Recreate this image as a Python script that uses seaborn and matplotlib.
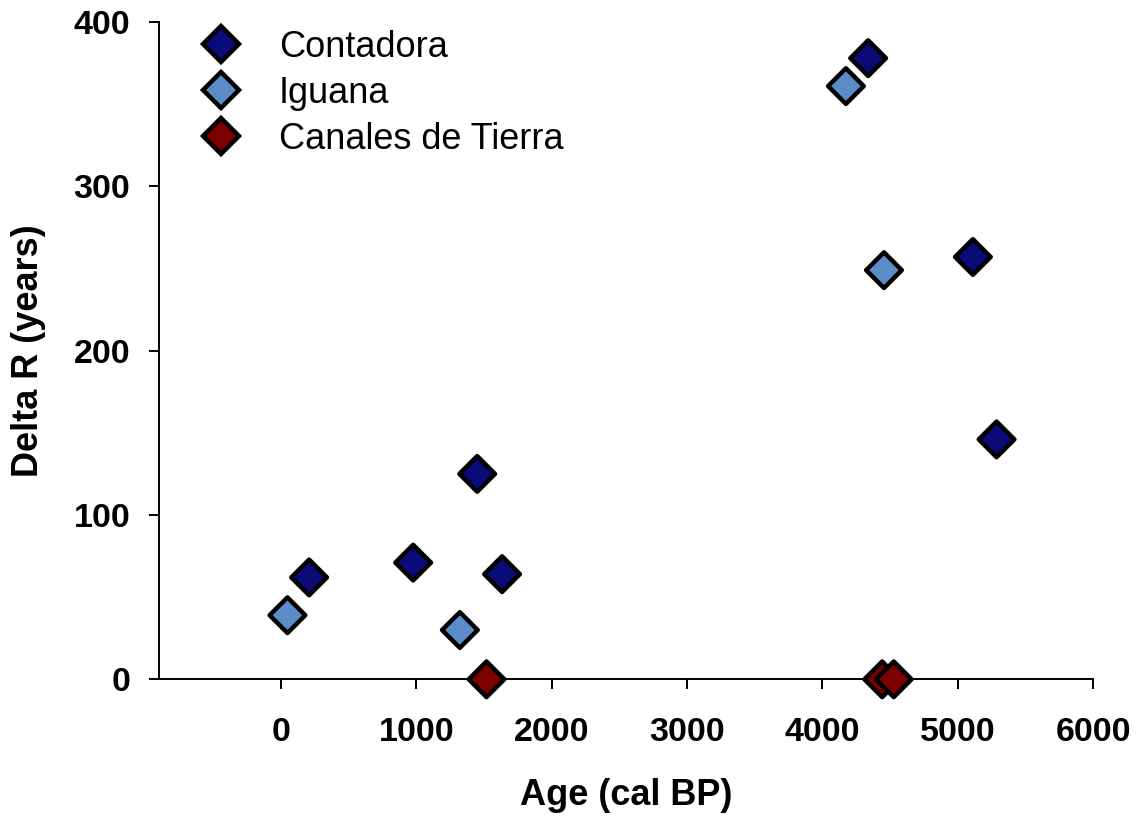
import pandas as pd
import matplotlib
matplotlib.use('Agg')
import matplotlib.pyplot as plt
from matplotlib.lines import Line2D
import seaborn as sns

# Values
sites = ['Contadora', 'Iguana', 'Canales de Tierra']
contadora_age = [207, 976, 1449, 1633, 4338, 5112, 5287]
contadora_dr = [62, 71, 125, 64, 378, 257, 146]
iguana_age = [47, 1321, 4174, 4455]
iguana_dr = [39, 30, 361, 249]
canales_age = [1518, 4442, 4527]
canales_dr = [0, 0, 0]
colors = ['#0a0a78', '#5b8cc8', '#7c0000']


def buildFrame():
    rows = []
    for site, ages, drs in zip(sites,
                               [contadora_age, iguana_age, canales_age],
                               [contadora_dr, iguana_dr, canales_dr]):
        for a, d in zip(ages, drs):
            rows.append({'age': a, 'deltaR': d, 'site': site})
    return pd.DataFrame(rows)


def main():
    df = buildFrame()
    sns.set_style('white')
    plt.rcParams['font.family'] = ['Liberation Sans', 'DejaVu Sans']
    plt.rcParams['text.color'] = 'black'
    plt.rcParams['axes.labelcolor'] = 'black'
    plt.rcParams['xtick.color'] = 'black'
    plt.rcParams['ytick.color'] = 'black'

    fig = plt.figure(figsize=(11.46, 8.21), dpi=100)
    ax = fig.add_axes([0.139, 0.1726, 0.8148, 0.8006])

    palette = dict(zip(sites, colors))
    sns.scatterplot(data=df, x='age', y='deltaR', hue='site', palette=palette,
                    marker='D', s=330, edgecolor='black', linewidth=3.2,
                    legend=False, ax=ax, clip_on=False, zorder=3)

    ax.set_xlim(-900, 6000)
    ax.set_ylim(0, 400)
    ax.set_xticks(range(0, 6001, 1000))
    ax.set_yticks(range(0, 401, 100))

    for side in ['top', 'right']:
        ax.spines[side].set_visible(False)
    for side in ['left', 'bottom']:
        ax.spines[side].set_color('black')
        ax.spines[side].set_linewidth(1.4)

    ax.tick_params(axis='both', direction='out', length=7, width=1.4,
                   color='black', labelcolor='black', labelsize=24.5,
                   bottom=True, left=True)
    ax.tick_params(axis='y', pad=14)
    ax.tick_params(axis='x', pad=20)
    for lbl in ax.get_xticklabels() + ax.get_yticklabels():
        lbl.set_fontweight('bold')

    ax.set_xlabel('Age (cal BP)', fontsize=26, fontweight='bold', labelpad=22)
    ax.set_ylabel('Delta R (years)', fontsize=26, fontweight='bold', labelpad=20)

    handles = [Line2D([], [], linestyle='none', marker='D', markersize=18,
                      markerfacecolor=c, markeredgecolor='black', markeredgewidth=3.2)
               for c in colors]
    ax.legend(handles, sites, loc='upper left', bbox_to_anchor=(0.012, 1.01),
              frameon=False, fontsize=26, handletextpad=0.6,
              labelspacing=0.3, borderaxespad=0)

    plt.savefig('out.png', dpi=100)


if __name__ == "__main__":
    main()
